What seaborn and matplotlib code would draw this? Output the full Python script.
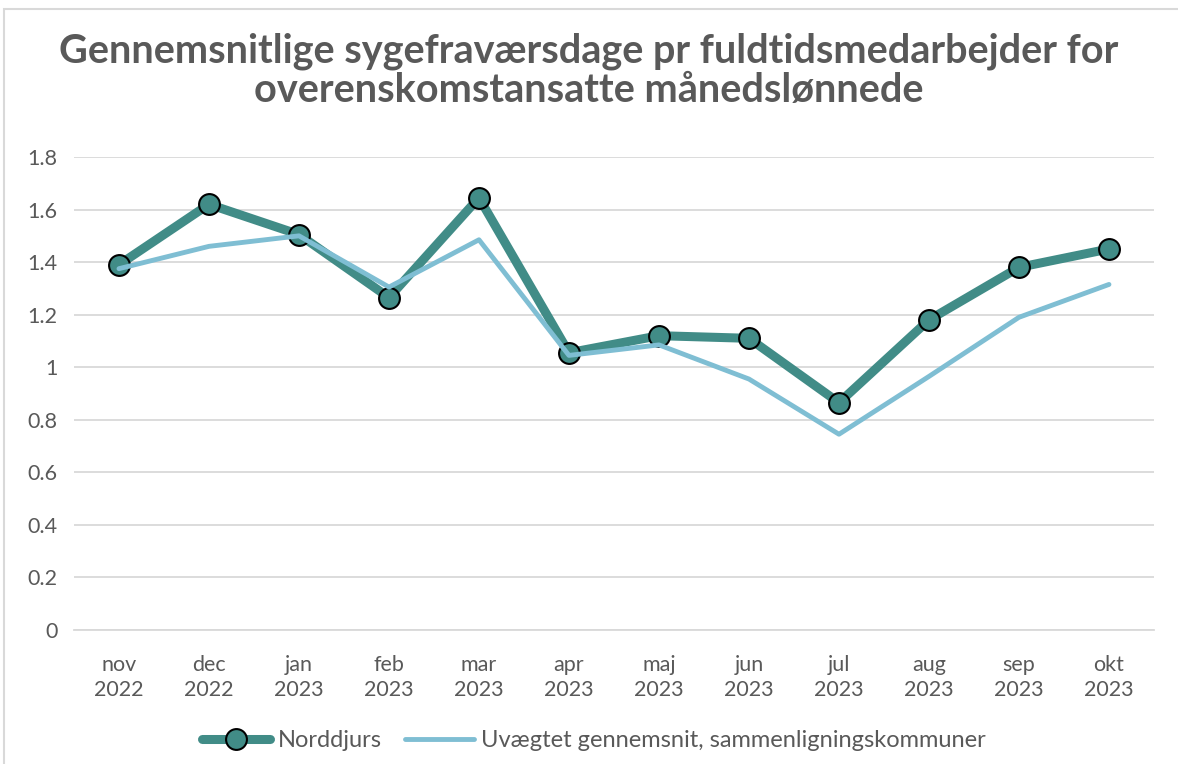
import matplotlib
matplotlib.use("Agg")
import matplotlib.pyplot as plt
import matplotlib.patches as mpatches
import pandas as pd
import seaborn as sns

# Data
months = ["nov\n2022", "dec\n2022", "jan\n2023", "feb\n2023", "mar\n2023", "apr\n2023",
          "maj\n2023", "jun\n2023", "jul\n2023", "aug\n2023", "sep\n2023", "okt\n2023"]
norddjurs = [1.39, 1.62, 1.505, 1.265, 1.645, 1.055, 1.12, 1.11, 0.865, 1.18, 1.38, 1.45]
sammenligning = [1.375, 1.46, 1.50, 1.305, 1.485, 1.045, 1.085, 0.955, 0.745, 0.965, 1.19, 1.315]
yticks = [0, 0.2, 0.4, 0.6, 0.8, 1, 1.2, 1.4, 1.6, 1.8]
ytick_labels = ["0", "0.2", "0.4", "0.6", "0.8", "1", "1.2", "1.4", "1.6", "1.8"]

label_a = "Norddjurs"
label_b = "Uvægtet gennemsnit, sammenligningskommuner"
title = "Gennemsnitlige sygefraværsdage pr fuldtidsmedarbejder for\noverenskomstansatte månedslønnede"

TEAL = "#418C87"
LIGHT_BLUE = "#7FBED3"
TEXT = "#595959"
GRID = "#D9D9D9"

sns.set_style("white")
plt.rcParams["font.family"] = ["Lato", "DejaVu Sans"]

df = pd.DataFrame({"month": months, "a": norddjurs, "b": sammenligning})
df["pos"] = range(len(df))

fig = plt.figure(figsize=(11.78, 7.64), dpi=100)
ax = fig.add_axes([0.0628, 0.1754, 0.9168, 0.6191])

sns.lineplot(data=df, x="pos", y="a", ax=ax, color=TEAL, linewidth=6.5,
             marker="o", markersize=15, markerfacecolor=TEAL, markeredgecolor="black",
             markeredgewidth=1.5, label=label_a, zorder=4, clip_on=False)
sns.lineplot(data=df, x="pos", y="b", ax=ax, color=LIGHT_BLUE, linewidth=3.5,
             label=label_b, zorder=5, clip_on=False)

ax.set_xlim(-0.5, len(months) - 0.5)
ax.set_ylim(0, 1.8)
ax.set_xticks(df["pos"])
ax.set_xticklabels(months, fontsize=15.5, color=TEXT, linespacing=1.3)
ax.set_yticks(yticks)
ax.set_yticklabels(ytick_labels, fontsize=15.5, color=TEXT)
ax.tick_params(axis="x", length=0, pad=18)
ax.tick_params(axis="y", length=0, pad=12)
ax.set_xlabel("")
ax.set_ylabel("")

ax.grid(axis="y", color=GRID, linewidth=1.3)
ax.set_axisbelow(True)
for side in ["top", "right", "left"]:
    ax.spines[side].set_visible(False)
ax.spines["bottom"].set_color(GRID)
ax.spines["bottom"].set_linewidth(1.3)

fig.text(0.5, 0.907, title, ha="center", va="center", fontsize=28.5, fontweight="bold",
         color=TEXT, linespacing=1.07)

handles, labels = ax.get_legend_handles_labels()
ax.legend(handles, labels, loc="center", bbox_to_anchor=(0.504, 0.031), bbox_transform=fig.transFigure,
          ncol=2, frameon=False, fontsize=17, labelcolor=TEXT, handlelength=2.9,
          columnspacing=1.0, handletextpad=0.3)

# light chart border like the spreadsheet frame
fig.patches.append(mpatches.Rectangle((0.003, -0.01), 1.2, 0.998, transform=fig.transFigure,
                                      fill=False, edgecolor=GRID, linewidth=1.5))

fig.savefig("out.png", dpi=100)
plt.close(fig)
